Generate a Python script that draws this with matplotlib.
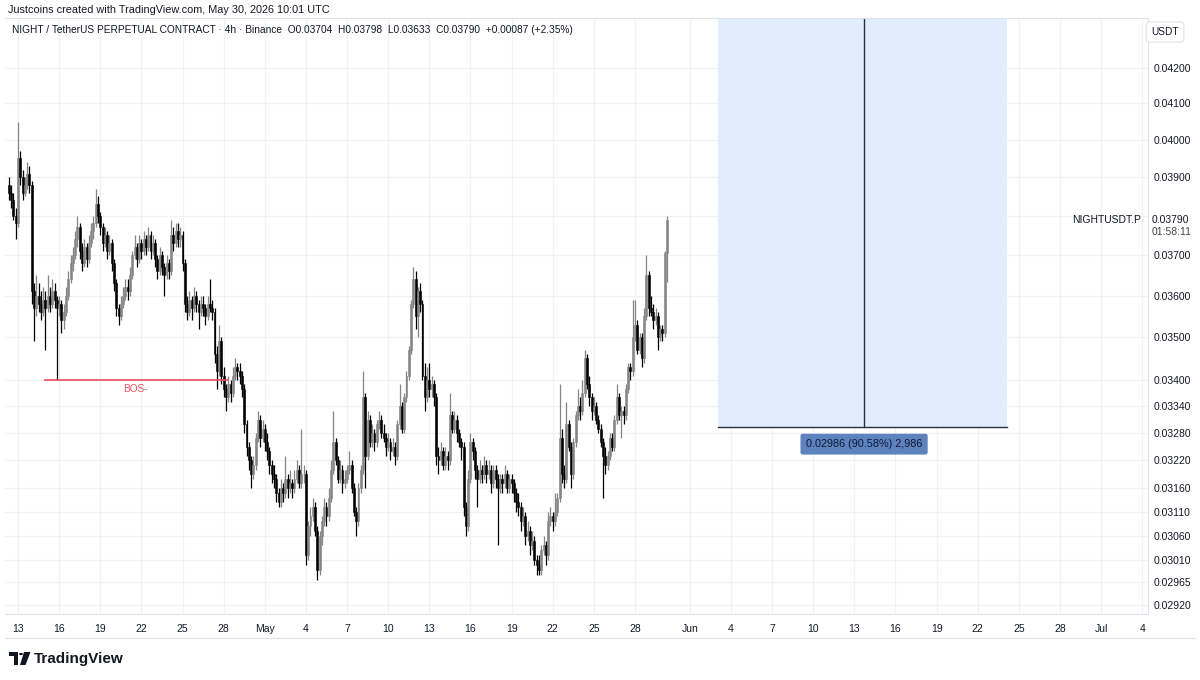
import matplotlib
matplotlib.use("Agg")
import matplotlib.pyplot as plt
import matplotlib.dates as mdates
import matplotlib.transforms as mtrans
from matplotlib.patches import Rectangle, Polygon, Circle
import numpy as np
import pandas as pd

plt.rcParams['font.family'] = ['Liberation Sans', 'DejaVu Sans']

# ---------------- data (4h candles, NIGHT/USDT perpetual) ----------------
first_candle = "2026-04-12 08:00"

opens = [
    .0388, .0386, .0384, .0380,
    .0378, .0395, .0390, .0386, .0388, .0391,
    .0388, .0361, .0357, .0360, .0358, .0356,
    .0359, .0357, .0360, .0358, .0361, .0359,
    .0357, .0358, .0354, .0356, .0360, .0364,
    .0368, .0370, .0374, .0377, .0371, .0368,
    .0372, .0369, .0373, .0376, .0378, .0383,
    .0380, .0377, .0373, .0375, .0371, .0373,
    .0368, .0363, .0357, .0355, .0358, .0360,
    .0362, .0361, .0365, .0370, .0372, .0369,
    .0373, .0371, .0374, .0372, .0375, .0371,
    .0373, .0369, .0366, .0370, .0367, .0365,
    .0368, .0366, .0375, .0373, .0376, .0374,
    .0375, .0368, .0358, .0356, .0359, .0357,
    .0360, .0358, .0356, .0358, .0357, .0355,
    .0358, .0357, .0356, .0346, .0342, .0349,
    .0341, .0338, .0336, .0339, .0337, .0341,
    .0343, .0342, .0341, .0338, .0330, .0325,
    .0322, .0319, .0321, .0327, .0331, .0327,
    .0329, .0326, .0324, .0321, .0319, .0318,
    .0315, .0313, .0316, .0315, .0318, .0316,
    .0317, .0316, .0318, .0320, .0317, .0319,
    .0319, .0302, .0308, .0310, .0312, .0307,
    .0299, .0306, .0309, .0312, .0310, .0314,
    .0320, .0326, .0322, .0318, .0320, .0317,
    .0318, .0320, .0321, .0316, .0311, .0309,
    .0316, .0320, .0336, .0323, .0331, .0326,
    .0328, .0326, .0330, .0331, .0328, .0327,
    .0325, .0326, .0324, .0325, .0323, .0330,
    .0334, .0329, .0336, .0341, .0347, .0358,
    .0364, .0355, .0361, .0358, .0341, .0336,
    .0340, .0338, .0339, .0336, .0323, .0322,
    .0324, .0321, .0323, .0322, .0332, .0329,
    .0331, .0328, .0326, .0325, .0312, .0308,
    .0318, .0326, .0324, .0320, .0318, .0320,
    .0319, .0321, .0319, .0320, .0317, .0320,
    .0318, .0316, .0318, .0317, .0319, .0316,
    .0318, .0317, .0315, .0313, .0312, .0309,
    .0310, .0306, .0307, .0304, .0305, .0301,
    .0300, .0299, .0303, .0304, .0302, .0309,
    .0310, .0309, .0311, .0314, .0327, .0319,
    .0318, .0330, .0325, .0319, .0326, .0332,
    .0334, .0333, .0337, .0345, .0339, .0336,
    .0333, .0334, .0331, .0329, .0326, .0323,
    .0321, .0323, .0327, .0325, .0331, .0336,
    .0332, .0333, .0332, .0338, .0343, .0342,
    .0350, .0353, .0347, .0350, .0345, .0355,
    .0365, .0357, .0356, .0354, .0355, .0350,
    .0352, .0351, .03704,
]

highs = [
    .0390, .0388, .0386, .0382,
    .0405, .0397, .0392, .0390, .0394, .0393,
    .0389, .0363, .0365, .0363, .0361, .0362,
    .0361, .0365, .0362, .0364, .0363, .0360,
    .0360, .0359, .0358, .0362, .0366, .0370,
    .0372, .0376, .0380, .0378, .0373, .0374,
    .0373, .0375, .0378, .0380, .0387, .0385,
    .0381, .0378, .0377, .0376, .0375, .0374,
    .0369, .0364, .0358, .0360, .0362, .0364,
    .0364, .0367, .0371, .0375, .0373, .0375,
    .0374, .0376, .0375, .0377, .0376, .0375,
    .0374, .0370, .0372, .0371, .0368, .0370,
    .0369, .0379, .0377, .0378, .0378, .0377,
    .0376, .0369, .0360, .0361, .0360, .0362,
    .0361, .0359, .0360, .0360, .0358, .0360,
    .0364, .0359, .0357, .0348, .0353, .0350,
    .0343, .0339, .0341, .0340, .0343, .0345,
    .0344, .0344, .0342, .0339, .0331, .0326,
    .0323, .0323, .0328, .0333, .0332, .0331,
    .0330, .0328, .0325, .0322, .0321, .0319,
    .0316, .0318, .0317, .0323, .0319, .0320,
    .0318, .0320, .0322, .0321, .0329, .0321,
    .0320, .0309, .0312, .0314, .0313, .0308,
    .0307, .0310, .0314, .0313, .0316, .0322,
    .0333, .0327, .0323, .0322, .0321, .0320,
    .0321, .0324, .0322, .0317, .0312, .0317,
    .0321, .0342, .0337, .0333, .0332, .0330,
    .0329, .0331, .0333, .0332, .0330, .0328,
    .0328, .0327, .0327, .0326, .0331, .0339,
    .0335, .0337, .0342, .0348, .0359, .0367,
    .0366, .0362, .0363, .0359, .0344, .0343,
    .0344, .0341, .0340, .0337, .0325, .0326,
    .0325, .0325, .0324, .0337, .0333, .0333,
    .0332, .0329, .0327, .0326, .0313, .0320,
    .0328, .0327, .0325, .0321, .0322, .0321,
    .0323, .0322, .0322, .0321, .0321, .0321,
    .0319, .0319, .0319, .0321, .0320, .0319,
    .0319, .0318, .0316, .0315, .0313, .0312,
    .0311, .0309, .0308, .0307, .0306, .0302,
    .0302, .0304, .0306, .0305, .0311, .0312,
    .0311, .0315, .0315, .0339, .0329, .0321,
    .0335, .0331, .0326, .0327, .0333, .0338,
    .0336, .0340, .0347, .0346, .0341, .0337,
    .0336, .0335, .0332, .0330, .0327, .0325,
    .0324, .0328, .0328, .0332, .0339, .0337,
    .0334, .0334, .0339, .0344, .0344, .0359,
    .0359, .0354, .0351, .0351, .0357, .0370,
    .0366, .0360, .0358, .0357, .0356, .0353,
    .0353, .0371, .03798,
]

lows = [
    .0384, .0382, .0379, .0374,
    .0377, .0388, .0384, .0385, .0387, .0386,
    .0358, .0349, .0355, .0356, .0354, .0355,
    .0347, .0356, .0356, .0357, .0357, .0340,
    .0355, .0351, .0352, .0355, .0359, .0363,
    .0366, .0369, .0372, .0369, .0366, .0367,
    .0367, .0368, .0372, .0374, .0377, .0378,
    .0375, .0371, .0372, .0369, .0370, .0366,
    .0361, .0355, .0353, .0354, .0357, .0359,
    .0359, .0360, .0364, .0369, .0367, .0368,
    .0369, .0370, .0370, .0371, .0369, .0370,
    .0367, .0364, .0365, .0365, .0360, .0364,
    .0364, .0365, .0371, .0372, .0372, .0372,
    .0366, .0356, .0354, .0355, .0354, .0356,
    .0356, .0352, .0355, .0355, .0353, .0354,
    .0356, .0354, .0344, .0338, .0341, .0339,
    .0336, .0333, .0335, .0335, .0336, .0340,
    .0340, .0339, .0336, .0328, .0323, .0320,
    .0316, .0318, .0320, .0326, .0325, .0326,
    .0324, .0322, .0319, .0317, .0316, .0313,
    .0312, .0312, .0313, .0314, .0314, .0315,
    .0314, .0315, .0317, .0316, .0316, .0317,
    .0300, .0301, .0306, .0309, .0306, .0297,
    .0298, .0304, .0308, .0308, .0309, .0313,
    .0319, .0321, .0317, .0317, .0315, .0316,
    .0317, .0319, .0315, .0310, .0306, .0308,
    .0315, .0319, .0316, .0322, .0325, .0325,
    .0324, .0325, .0329, .0327, .0326, .0323,
    .0324, .0322, .0323, .0321, .0322, .0329,
    .0328, .0328, .0335, .0340, .0346, .0357,
    .0352, .0350, .0356, .0340, .0333, .0335,
    .0336, .0336, .0334, .0321, .0319, .0321,
    .0320, .0320, .0320, .0321, .0328, .0328,
    .0326, .0325, .0322, .0310, .0306, .0307,
    .0317, .0322, .0318, .0312, .0317, .0317,
    .0318, .0317, .0318, .0315, .0316, .0316,
    .0304, .0315, .0315, .0316, .0315, .0315,
    .0315, .0313, .0311, .0310, .0307, .0308,
    .0304, .0305, .0302, .0303, .0300, .0298,
    .0298, .0298, .0302, .0300, .0301, .0308,
    .0307, .0308, .0310, .0313, .0317, .0316,
    .0317, .0324, .0316, .0318, .0325, .0331,
    .0331, .0332, .0336, .0338, .0334, .0331,
    .0332, .0330, .0328, .0325, .0314, .0319,
    .0320, .0322, .0324, .0324, .0330, .0331,
    .0327, .0330, .0331, .0337, .0340, .0341,
    .0349, .0346, .0346, .0343, .0344, .0354,
    .0355, .0355, .0352, .0353, .0347, .0349,
    .0349, .0350, .03633,
]

closes = [
    .0386, .0384, .0380, .0378,
    .0395, .0390, .0386, .0388, .0391, .0388,
    .0361, .0357, .0360, .0358, .0356, .0359,
    .0357, .0360, .0358, .0361, .0359, .0357,
    .0358, .0354, .0356, .0360, .0364, .0368,
    .0370, .0374, .0377, .0371, .0368, .0372,
    .0369, .0373, .0376, .0378, .0383, .0380,
    .0377, .0373, .0375, .0371, .0373, .0368,
    .0363, .0357, .0355, .0358, .0360, .0362,
    .0361, .0365, .0370, .0372, .0369, .0373,
    .0371, .0374, .0372, .0375, .0371, .0373,
    .0369, .0366, .0370, .0367, .0365, .0368,
    .0366, .0375, .0373, .0376, .0374, .0375,
    .0368, .0358, .0356, .0359, .0357, .0360,
    .0358, .0356, .0358, .0357, .0355, .0358,
    .0357, .0356, .0346, .0342, .0349, .0341,
    .0338, .0336, .0339, .0337, .0341, .0343,
    .0342, .0341, .0338, .0330, .0325, .0322,
    .0319, .0321, .0327, .0331, .0327, .0329,
    .0326, .0324, .0321, .0319, .0318, .0315,
    .0313, .0316, .0315, .0318, .0316, .0317,
    .0316, .0318, .0320, .0317, .0319, .0319,
    .0302, .0308, .0310, .0312, .0307, .0299,
    .0306, .0309, .0312, .0310, .0314, .0320,
    .0326, .0322, .0318, .0320, .0317, .0318,
    .0320, .0321, .0316, .0311, .0309, .0316,
    .0320, .0336, .0323, .0331, .0326, .0328,
    .0326, .0330, .0331, .0328, .0327, .0325,
    .0326, .0324, .0325, .0323, .0330, .0334,
    .0329, .0336, .0341, .0347, .0358, .0364,
    .0355, .0361, .0358, .0341, .0336, .0340,
    .0338, .0339, .0336, .0323, .0322, .0324,
    .0321, .0323, .0322, .0332, .0329, .0331,
    .0328, .0326, .0325, .0312, .0308, .0318,
    .0326, .0324, .0320, .0318, .0320, .0319,
    .0321, .0319, .0320, .0317, .0320, .0318,
    .0316, .0318, .0317, .0319, .0316, .0318,
    .0317, .0315, .0313, .0312, .0309, .0310,
    .0306, .0307, .0304, .0305, .0301, .0300,
    .0299, .0303, .0304, .0302, .0309, .0310,
    .0309, .0311, .0314, .0327, .0319, .0318,
    .0330, .0325, .0319, .0326, .0332, .0334,
    .0333, .0337, .0345, .0339, .0336, .0333,
    .0334, .0331, .0329, .0326, .0323, .0321,
    .0323, .0327, .0325, .0331, .0336, .0332,
    .0333, .0332, .0338, .0343, .0342, .0350,
    .0353, .0347, .0350, .0345, .0355, .0365,
    .0357, .0356, .0354, .0355, .0350, .0352,
    .0351, .03704, .03790,
]

price_ticks = [0.04200, 0.04100, 0.04000, 0.03900, 0.03800, 0.03700, 0.03600,
               0.03500, 0.03400, 0.03340, 0.03280, 0.03220, 0.03160, 0.03110,
               0.03060, 0.03010, 0.02965, 0.02920]
hidden_tick = 0.03800
last_price = 0.03790

date_ticks = ["2026-04-13", "2026-04-16", "2026-04-19", "2026-04-22", "2026-04-25",
              "2026-04-28", "2026-05-01", "2026-05-04", "2026-05-07", "2026-05-10",
              "2026-05-13", "2026-05-16", "2026-05-19", "2026-05-22", "2026-05-25",
              "2026-05-28", "2026-06-01", "2026-06-04", "2026-06-07", "2026-06-10",
              "2026-06-13", "2026-06-16", "2026-06-19", "2026-06-22", "2026-06-25",
              "2026-06-28", "2026-07-01", "2026-07-04"]

bos_level = 0.03400
bos_start = "2026-04-15 00:00"
bos_end = "2026-04-28 08:00"
bos_label_at = "2026-04-21 14:00"

measure_start = "2026-06-03 02:00"
measure_end = "2026-06-24 04:00"
measure_mid = "2026-06-13 17:00"
measure_level = 0.03294
measure_text = "0.02986 (90.58%) 2,986"

x_range = ("2026-04-12 01:15", "2026-07-04 10:00")
y_range = (0.02902, 0.04344)

UP = "#858585"
DOWN = "#000000"
TXT = "#131722"
GRID = "#f0f1f4"

# ---------------- figure ----------------
W, H = 1200, 680
fig = plt.figure(figsize=(12, 6.8), dpi=100)
fig.patch.set_facecolor("white")


def fx(px):
    return px / W


def fy(py):
    return 1 - py / H


ax = fig.add_axes([fx(5), fy(614), fx(1148) - fx(5), fy(18) - fy(614)])
ax.set_yscale("log")
ax.set_ylim(*y_range)
dn = lambda s: mdates.date2num(pd.Timestamp(s).to_pydatetime())
ax.set_xlim(dn(x_range[0]), dn(x_range[1]))

# grid / ticks
ax.yaxis.set_minor_locator(matplotlib.ticker.NullLocator())
ax.set_yticks(price_ticks)
ax.set_yticklabels(["" if v == hidden_tick else f"{v:.5f}" for v in price_ticks])
ax.yaxis.tick_right()
xt = [dn(d) for d in date_ticks]
xl = []
for d in date_ticks:
    t = pd.Timestamp(d)
    xl.append(t.strftime("%b") if t.day == 1 else str(t.day))
ax.set_xticks(xt)
ax.set_xticklabels(xl)
ax.tick_params(axis="both", length=0, labelsize=7.5, colors=TXT)
ax.tick_params(axis="y", pad=4)
ax.tick_params(axis="x", pad=7)
ax.grid(True, color=GRID, lw=0.9, zorder=0)
ax.set_axisbelow(True)
ax.spines["left"].set_visible(False)
for side in ["top", "bottom", "right"]:
    ax.spines[side].set_color("#e0e3eb")
    ax.spines[side].set_linewidth(0.8)

# measurement box (drawn below candles)
m0, m1, mm = dn(measure_start), dn(measure_end), dn(measure_mid)
ax.add_patch(Rectangle((m0, measure_level), m1 - m0, 0.06 - measure_level,
                       facecolor="#e1edfd", edgecolor="none", zorder=1))
ax.plot([m0, m1], [measure_level, measure_level], color="#2a2e39", lw=1.0, zorder=2)
ax.plot([mm, mm], [measure_level, 0.06], color="#2a2e39", lw=1.0, zorder=2)
ax.annotate(measure_text, xy=(mm, measure_level), xytext=(0, -12.5),
            textcoords="offset points", ha="center", va="center", fontsize=7.8,
            color="#0b1a33",
            bbox=dict(boxstyle="round,pad=0.5,rounding_size=0.2", fc="#5e82be", ec="none"),
            zorder=6)

# candles
times = pd.date_range(first_candle, periods=len(closes), freq="4h")
x = mdates.date2num(times.to_pydatetime())
o = np.array(opens)
h = np.array(highs)
l = np.array(lows)
c = np.array(closes)
col = np.where(c >= o, UP, DOWN)
ax.vlines(x, l, h, colors=col, lw=0.9, zorder=3)
body_low = np.minimum(o, c)
body_h = np.maximum(np.abs(c - o), 0.000012)
ax.bar(x, body_h, bottom=body_low, width=0.14, color=col, edgecolor=col,
       lw=0.4, zorder=4)

# BOS line
ax.plot([dn(bos_start), dn(bos_end)], [bos_level, bos_level], color="#e8505f",
        lw=1.2, zorder=5)
ax.annotate("BOS-", xy=(dn(bos_label_at), bos_level), xytext=(0, -6.5),
            textcoords="offset points", ha="center", va="center",
            fontsize=7.2, color="#e8505f", zorder=5)

# last price tag
trans = mtrans.blended_transform_factory(ax.transAxes, ax.transData)
ax_w = 1148 - 5
lx = (1152 - 5) / ax_w
ax.text(lx, last_price, f"{last_price:.5f}", transform=trans, ha="left", va="center",
        fontsize=7.5, color=TXT, clip_on=False,
        bbox=dict(boxstyle="square,pad=0.15", fc="white", ec="none"))
ax.annotate("01:58:11", xy=(lx, last_price), xycoords=trans, xytext=(0, -9),
            textcoords="offset points", ha="left", va="center", fontsize=7.5,
            color="#434651", annotation_clip=False)
ax.text((1141 - 5) / ax_w, last_price, "NIGHTUSDT.P", transform=trans, ha="right",
        va="center", fontsize=7.5, color=TXT, clip_on=False)

# header texts
fig.text(fx(8), fy(10), "Justcoins created with TradingView.com, May 30, 2026 10:01 UTC",
         fontsize=7.8, color=TXT, va="center", ha="left")
fig.text(fx(12), fy(30),
         "NIGHT / TetherUS PERPETUAL CONTRACT · 4h · Binance  O0.03704  H0.03798  "
         "L0.03633  C0.03790  +0.00087 (+2.35%)",
         fontsize=7.3, color=TXT, va="center", ha="left")
fig.text(fx(1165), fy(32), "USDT", fontsize=7.3, color=TXT, va="center", ha="center",
         bbox=dict(boxstyle="round,pad=0.5,rounding_size=0.3", fc="white", ec="#e0e3eb", lw=0.8))

# bottom border of time axis
fig.add_artist(plt.Line2D([fx(5), fx(1195)], [fy(638), fy(638)], color="#e0e3eb", lw=0.8))

# TradingView logo
logo = "#131722"
fig.add_artist(Polygon([(fx(9), fy(652)), (fx(18), fy(652)), (fx(18), fy(665)),
                        (fx(14), fy(665)), (fx(14), fy(656)), (fx(9), fy(656))],
                       closed=True, fc=logo, ec="none", transform=fig.transFigure))
fig.add_artist(Circle((fx(21), fy(654)), 2.0 / W, fc=logo, ec="none",
                      transform=fig.transFigure))
fig.add_artist(Polygon([(fx(24), fy(652)), (fx(30.5), fy(652)), (fx(25.5), fy(665)),
                        (fx(20), fy(665))], closed=True, fc=logo, ec="none",
                       transform=fig.transFigure))
fig.text(fx(34), fy(659), "TradingView", fontsize=11, fontweight="bold", color=logo,
         va="center", ha="left")

fig.savefig("out.png", dpi=100, facecolor="white")
